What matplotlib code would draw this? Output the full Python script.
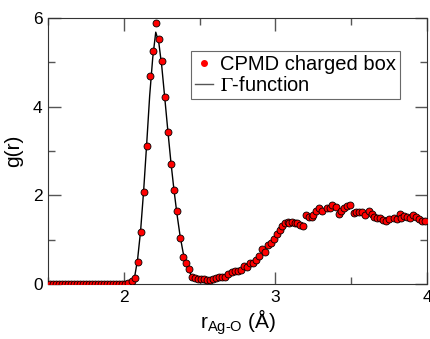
import matplotlib
matplotlib.use("Agg")
import matplotlib.pyplot as plt
from matplotlib.lines import Line2D
from matplotlib.ticker import MultipleLocator

plt.rcParams['font.family'] = ['Liberation Sans', 'DejaVu Sans']
plt.rcParams['mathtext.fontset'] = 'custom'
plt.rcParams['mathtext.rm'] = 'Liberation Sans'
plt.rcParams['mathtext.it'] = 'Liberation Sans:italic'

# CPMD data points (r in Angstrom, g(r))
r_cpmd = [1.51, 1.53, 1.55, 1.57, 1.59, 1.61, 1.63, 1.65, 1.67, 1.69,
          1.71, 1.73, 1.75, 1.77, 1.79, 1.81, 1.83, 1.85, 1.87, 1.89,
          1.91, 1.93, 1.95, 1.97, 1.99, 2.01, 2.03, 2.05, 2.07, 2.09,
          2.11, 2.13, 2.15, 2.17, 2.19, 2.21, 2.23, 2.25, 2.27, 2.29,
          2.31, 2.33, 2.35, 2.37, 2.39, 2.41, 2.43, 2.45, 2.47, 2.49,
          2.51, 2.53, 2.55, 2.57, 2.59, 2.61, 2.63, 2.65, 2.67, 2.69,
          2.71, 2.73, 2.75, 2.77, 2.79, 2.81, 2.83, 2.85, 2.87, 2.89,
          2.91, 2.93, 2.95, 2.97, 2.99, 3.01, 3.03, 3.04, 3.06, 3.08,
          3.09, 3.11, 3.13, 3.14, 3.16, 3.18, 3.20, 3.22, 3.24, 3.25,
          3.27, 3.29, 3.31, 3.34, 3.36, 3.37, 3.40, 3.42, 3.43, 3.45,
          3.47, 3.49, 3.52, 3.53, 3.55, 3.57, 3.59, 3.62, 3.64, 3.65,
          3.67, 3.69, 3.71, 3.73, 3.75, 3.78, 3.80, 3.82, 3.83, 3.85,
          3.87, 3.89, 3.91, 3.93, 3.95, 3.97, 3.99]
g_cpmd = [0.0, 0.0, 0.0, 0.0, 0.0, 0.0, 0.0, 0.0, 0.0, 0.0,
          0.0, 0.0, 0.0, 0.0, 0.0, 0.0, 0.0, 0.0, 0.0, 0.0,
          0.0, 0.0, 0.0, 0.0, 0.0, 0.01, 0.02, 0.06, 0.14, 0.49,
          1.17, 2.07, 3.12, 4.69, 5.26, 5.88, 5.53, 5.04, 4.21, 3.42,
          2.71, 2.12, 1.65, 1.03, 0.62, 0.47, 0.33, 0.17, 0.13, 0.12,
          0.11, 0.11, 0.10, 0.09, 0.12, 0.14, 0.15, 0.15, 0.16, 0.22,
          0.27, 0.29, 0.30, 0.32, 0.41, 0.38, 0.48, 0.48, 0.54, 0.63,
          0.80, 0.73, 0.88, 0.92, 1.01, 1.13, 1.23, 1.32, 1.37, 1.39,
          1.37, 1.40, 1.37, 1.37, 1.34, 1.32, 1.56, 1.52, 1.52, 1.56,
          1.65, 1.72, 1.65, 1.72, 1.71, 1.78, 1.73, 1.59, 1.65, 1.71,
          1.77, 1.78, 1.61, 1.62, 1.62, 1.63, 1.55, 1.65, 1.59, 1.52,
          1.50, 1.50, 1.44, 1.42, 1.46, 1.48, 1.46, 1.59, 1.50, 1.54,
          1.52, 1.50, 1.56, 1.52, 1.47, 1.43, 1.42]

# Gamma-function fit of the first peak
r_fit = [1.50, 2.00, 2.03, 2.05, 2.07, 2.09, 2.11, 2.13, 2.15, 2.17,
         2.19, 2.21, 2.23, 2.25, 2.27, 2.29, 2.31, 2.33, 2.35, 2.37,
         2.39, 2.41, 2.43, 2.45, 2.47, 2.50, 2.55]
g_fit = [0.0, 0.0, 0.01, 0.04, 0.15, 0.55, 1.20, 2.10, 3.15, 4.25,
         5.10, 5.68, 5.45, 4.90, 4.18, 3.45, 2.75, 2.13, 1.58, 1.10,
         0.72, 0.46, 0.29, 0.17, 0.10, 0.05, 0.02]

fig = plt.figure(figsize=(4.3, 3.39), dpi=100)
ax = fig.add_axes([0.112, 0.162, 0.881, 0.785])

ax.plot(r_fit, g_fit, color='black', lw=1.0, zorder=2)
ax.plot(r_cpmd, g_cpmd, 'o', color='red', mec='black', mew=0.6, ms=5, zorder=3)

ax.set_xlim(1.5, 4.0)
ax.set_ylim(0, 6)
ax.xaxis.set_major_locator(MultipleLocator(1))
ax.xaxis.set_minor_locator(MultipleLocator(0.5))
ax.yaxis.set_major_locator(MultipleLocator(2))
ax.yaxis.set_minor_locator(MultipleLocator(1))
ax.tick_params(which='both', direction='in', top=True, right=True,
               labelsize=12.5, color='#555555', pad=4)
ax.tick_params(which='major', length=9, width=1)
ax.tick_params(which='minor', length=5, width=1)
for s in ax.spines.values():
    s.set_color('#333333')

ax.set_xlabel(r'r$_{\mathregular{Ag}\text{-}\mathregular{O}}$ (Å)', fontsize=15, labelpad=2)
ax.set_ylabel('g(r)', fontsize=15, labelpad=7)

# legend handles styled like the original (small dot, grey line)
h_pts = Line2D([], [], ls='none', marker='o', color='red', mec='red', ms=4)
h_fit = Line2D([], [], color='#555555', lw=1.0)
leg = ax.legend([h_pts, h_fit], ['CPMD charged box', r'$\Gamma$-function'],
                loc='upper left', bbox_to_anchor=(0.378, 0.876), fontsize=14.5,
                frameon=True, fancybox=False, edgecolor='#444444', borderpad=0.2,
                handlelength=0.85, handletextpad=0.35, labelspacing=0.1,
                borderaxespad=0)
leg.get_frame().set_linewidth(0.8)
for t in leg.get_texts():
    t.set_math_fontfamily('stix')

fig.savefig('out.png', dpi=100)
